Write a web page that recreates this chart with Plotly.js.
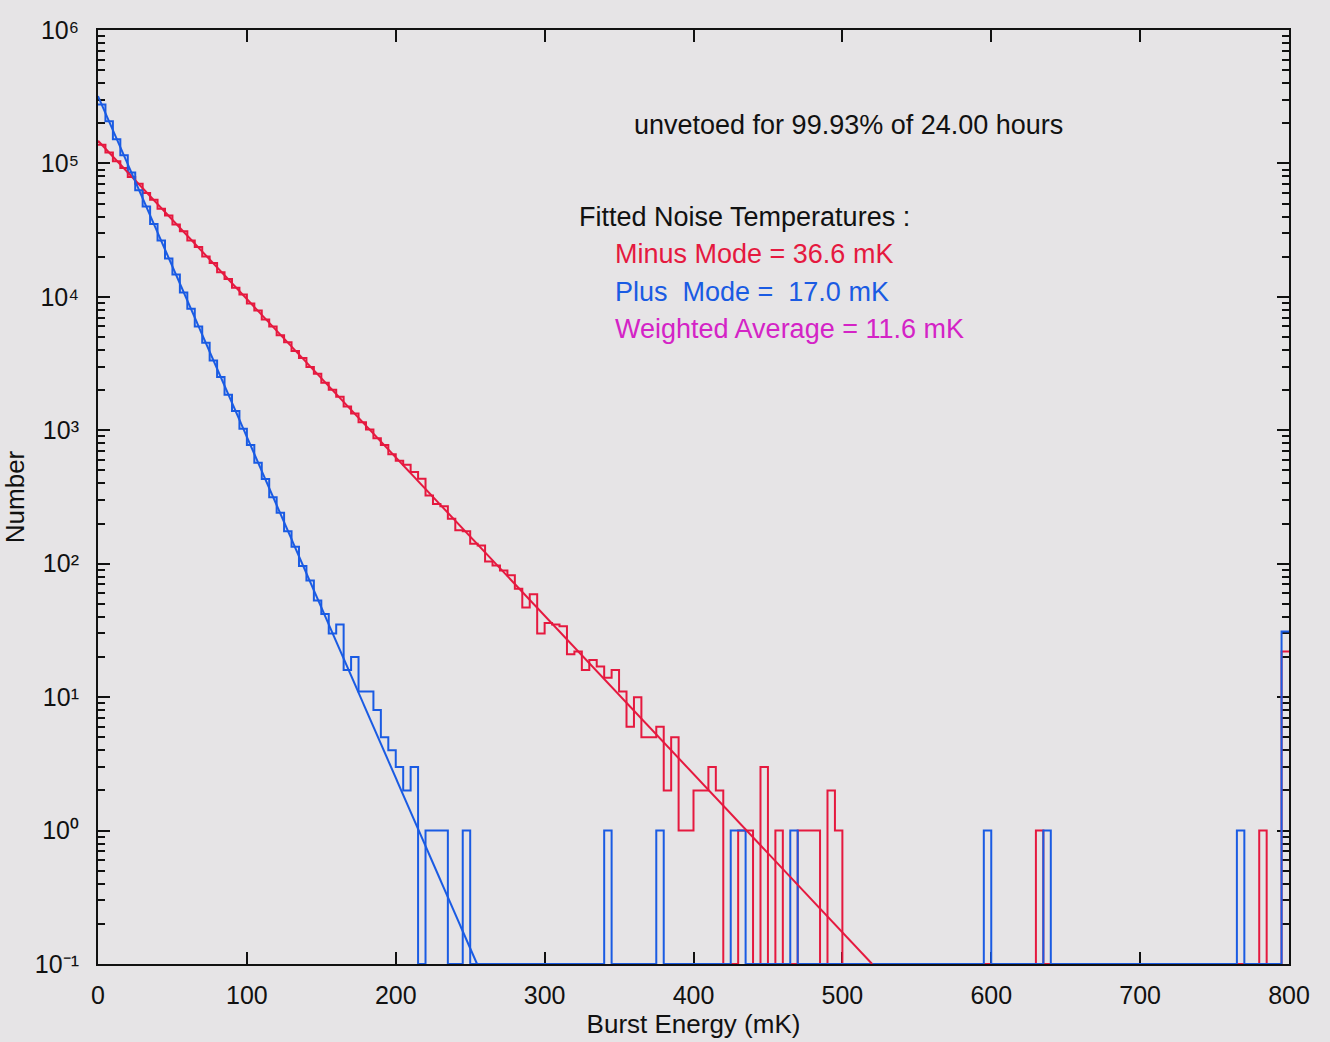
<!DOCTYPE html>
<html>
<head>
<meta charset="utf-8">
<script src="https://cdn.plot.ly/plotly-3.0.1.min.js"></script>
<style>
html,body{margin:0;padding:0;background:#e6e4e6;}
#chart{width:1330px;height:1042px;}
</style>
</head>
<body>
<div id="chart"></div>
<script>
// ---- data ----
const binWidthMK = 5;             // histogram bin width (mK)
const energyMax = 800;            // last bin edge (mK)

// counts per 5 mK bin, Plus Mode (blue)
const plusModeCounts = [
 276000,207000,152000,115000,85500,63000,47600,35100,26400,19400,
 14700,10800,8150,6000,4520,3330,2510,1850,1395,1025,
 776,570,432,315,241,175,134,96,75,53,
 42,30,35,16,20,11,11,8,5,4,
 3,2,3,0,1,1,1,0,0,1,
 0,0,0,0,0,0,0,0,0,0,
 0,0,0,0,0,0,0,0,1,0,
 0,0,0,0,0,1,0,0,0,0,
 0,0,0,0,0,1,1,0,0,0,
 0,0,0,1,0,0,0,0,0,0,
 0,0,0,0,0,0,0,0,0,0,
 0,0,0,0,0,0,0,0,0,1,
 0,0,0,0,0,0,0,1,0,0,
 0,0,0,0,0,0,0,0,0,0,
 0,0,0,0,0,0,0,0,0,0,
 0,0,0,1,0,0,0,0,0,31
];

// counts per 5 mK bin, Minus Mode (red)
const minusModeCounts = [
 138000,121000,104000,92500,79000,70500,60000,53500,45800,40800,
 34800,31000,26500,23600,20100,17900,15300,13600,11700,10400,
 8900,7900,6780,6000,5150,4560,3920,3480,2980,2650,
 2270,2010,1780,1510,1335,1150,1015,872,775,662,
 590,551,486,434,325,280,270,217,178,175,
 141,137,104,97,89,82,65,47,59,30,
 36,35,34,21,22,16,19,17,14,16,
 11,6,10,5,5,6,2,5,1,1,
 2,2,3,2,0,0,1,1,0,3,
 0,1,0,0,1,1,1,0,2,1,
 0,0,0,0,0,0,0,0,0,0,
 0,0,0,0,0,0,0,0,0,0,
 0,0,0,0,0,0,1,0,0,0,
 0,0,0,0,0,0,0,0,0,0,
 0,0,0,0,0,0,0,0,0,0,
 0,0,0,0,0,0,1,0,0,22
];

// fitted exponential lines (end points)
const plusFitEnergy = [0, 254.6];
const plusFitNumber = [3.2e5, 0.1];
const minusFitEnergy = [0, 520];
const minusFitNumber = [1.48e5, 0.1];

// ticks
const xTickValues = [0,100,200,300,400,500,600,700,800];
const xTickText = ['0','100','200','300','400','500','600','700','800'];
const yTickValues = [0.1,1,10,100,1000,10000,100000,1000000];
const yTickText = ['10\u207B\u00B9','10\u2070','10\u00B9','10\u00B2','10\u00B3','10\u2074','10\u2075','10\u2076'];

// annotation texts
const headerText = 'unvetoed for 99.93% of 24.00 hours';
const fitTitle = 'Fitted Noise Temperatures :';
const minusText = 'Minus Mode = 36.6 mK';
const plusText = 'Plus\u00a0 Mode =\u00a0 17.0 mK';
const averageText = 'Weighted Average = 11.6 mK';

// ---- build ----
const RED = '#e5193f';
const BLUE = '#1a5be3';
const MAGENTA = '#d423c6';
const BG = '#e6e4e6';
const INK = '#111111';
const FONT = 'Liberation Sans, Arial, Helvetica, sans-serif';
const yFloor = 0.1; // zero counts drawn on the bottom axis

function steps(counts){
  const xs = [], ys = [];
  counts.forEach((c,i)=>{ xs.push(i*binWidthMK); ys.push(c>0?c:yFloor); });
  xs.push(energyMax); ys.push(counts[counts.length-1]>0?counts[counts.length-1]:yFloor);
  return {xs, ys};
}
const minusH = steps(minusModeCounts);
const plusH = steps(plusModeCounts);

const minorY = [];
for (let d=-1; d<6; d++) for (let k=2;k<=9;k++) minorY.push(k*Math.pow(10,d));

const traces = [
  {x: minusH.xs, y: minusH.ys, mode:'lines', line:{shape:'hv', color:RED, width:2}, hoverinfo:'skip'},
  {x: plusH.xs, y: plusH.ys, mode:'lines', line:{shape:'hv', color:BLUE, width:2}, hoverinfo:'skip'},
  {x: minusFitEnergy, y: minusFitNumber, mode:'lines', line:{color:RED, width:2}, hoverinfo:'skip'},
  {x: plusFitEnergy, y: plusFitNumber, mode:'lines', line:{color:BLUE, width:2}, hoverinfo:'skip'}
];

const annFont = (c)=>({size:27, family:FONT, color:c});

const layout = {
  width:1330, height:1042,
  paper_bgcolor:BG, plot_bgcolor:BG,
  showlegend:false,
  margin:{l:98, r:41, t:30, b:78},
  font:{family:FONT, color:INK, size:25},
  xaxis:{
    range:[0,800], type:'linear',
    tickmode:'array', tickvals:xTickValues, ticktext:xTickText,
    ticks:'inside', ticklen:12, tickwidth:2, tickcolor:INK,
    showline:true, linecolor:INK, linewidth:2, mirror:'ticks',
    showgrid:false, zeroline:false, layer:'below traces',
    tickfont:{size:25, family:FONT, color:INK},
    ticklabelstandoff:8,
    title:{text:'Burst Energy (mK)', font:{size:26, family:FONT, color:INK}, standoff:4}
  },
  yaxis:{
    type:'log', range:[-1,6],
    tickmode:'array', tickvals:yTickValues, ticktext:yTickText,
    ticks:'inside', ticklen:12, tickwidth:2, tickcolor:INK,
    minor:{tickmode:'array', tickvals:minorY, ticks:'inside', ticklen:7, tickwidth:2, tickcolor:INK, showgrid:false},
    showline:true, linecolor:INK, linewidth:2, mirror:'ticks',
    showgrid:false, zeroline:false, layer:'below traces',
    tickfont:{size:25, family:FONT, color:INK},
    ticklabelstandoff:12,
    title:{text:'Number', font:{size:26, family:FONT, color:INK}, standoff:10}
  },
  annotations:[
    {x:504, y:5.288, xref:'x', yref:'y', text:headerText, showarrow:false, xanchor:'center', yanchor:'middle', font:annFont(INK)},
    {x:322, y:4.598, xref:'x', yref:'y', text:fitTitle, showarrow:false, xanchor:'left', yanchor:'middle', font:annFont(INK)},
    {x:346, y:4.321, xref:'x', yref:'y', text:minusText, showarrow:false, xanchor:'left', yanchor:'middle', font:annFont(RED)},
    {x:346, y:4.036, xref:'x', yref:'y', text:plusText, showarrow:false, xanchor:'left', yanchor:'middle', font:annFont(BLUE)},
    {x:346, y:3.759, xref:'x', yref:'y', text:averageText, showarrow:false, xanchor:'left', yanchor:'middle', font:annFont(MAGENTA)}
  ]
};

Plotly.newPlot('chart', traces, layout, {staticPlot:true, displayModeBar:false});
</script>
</body>
</html>
